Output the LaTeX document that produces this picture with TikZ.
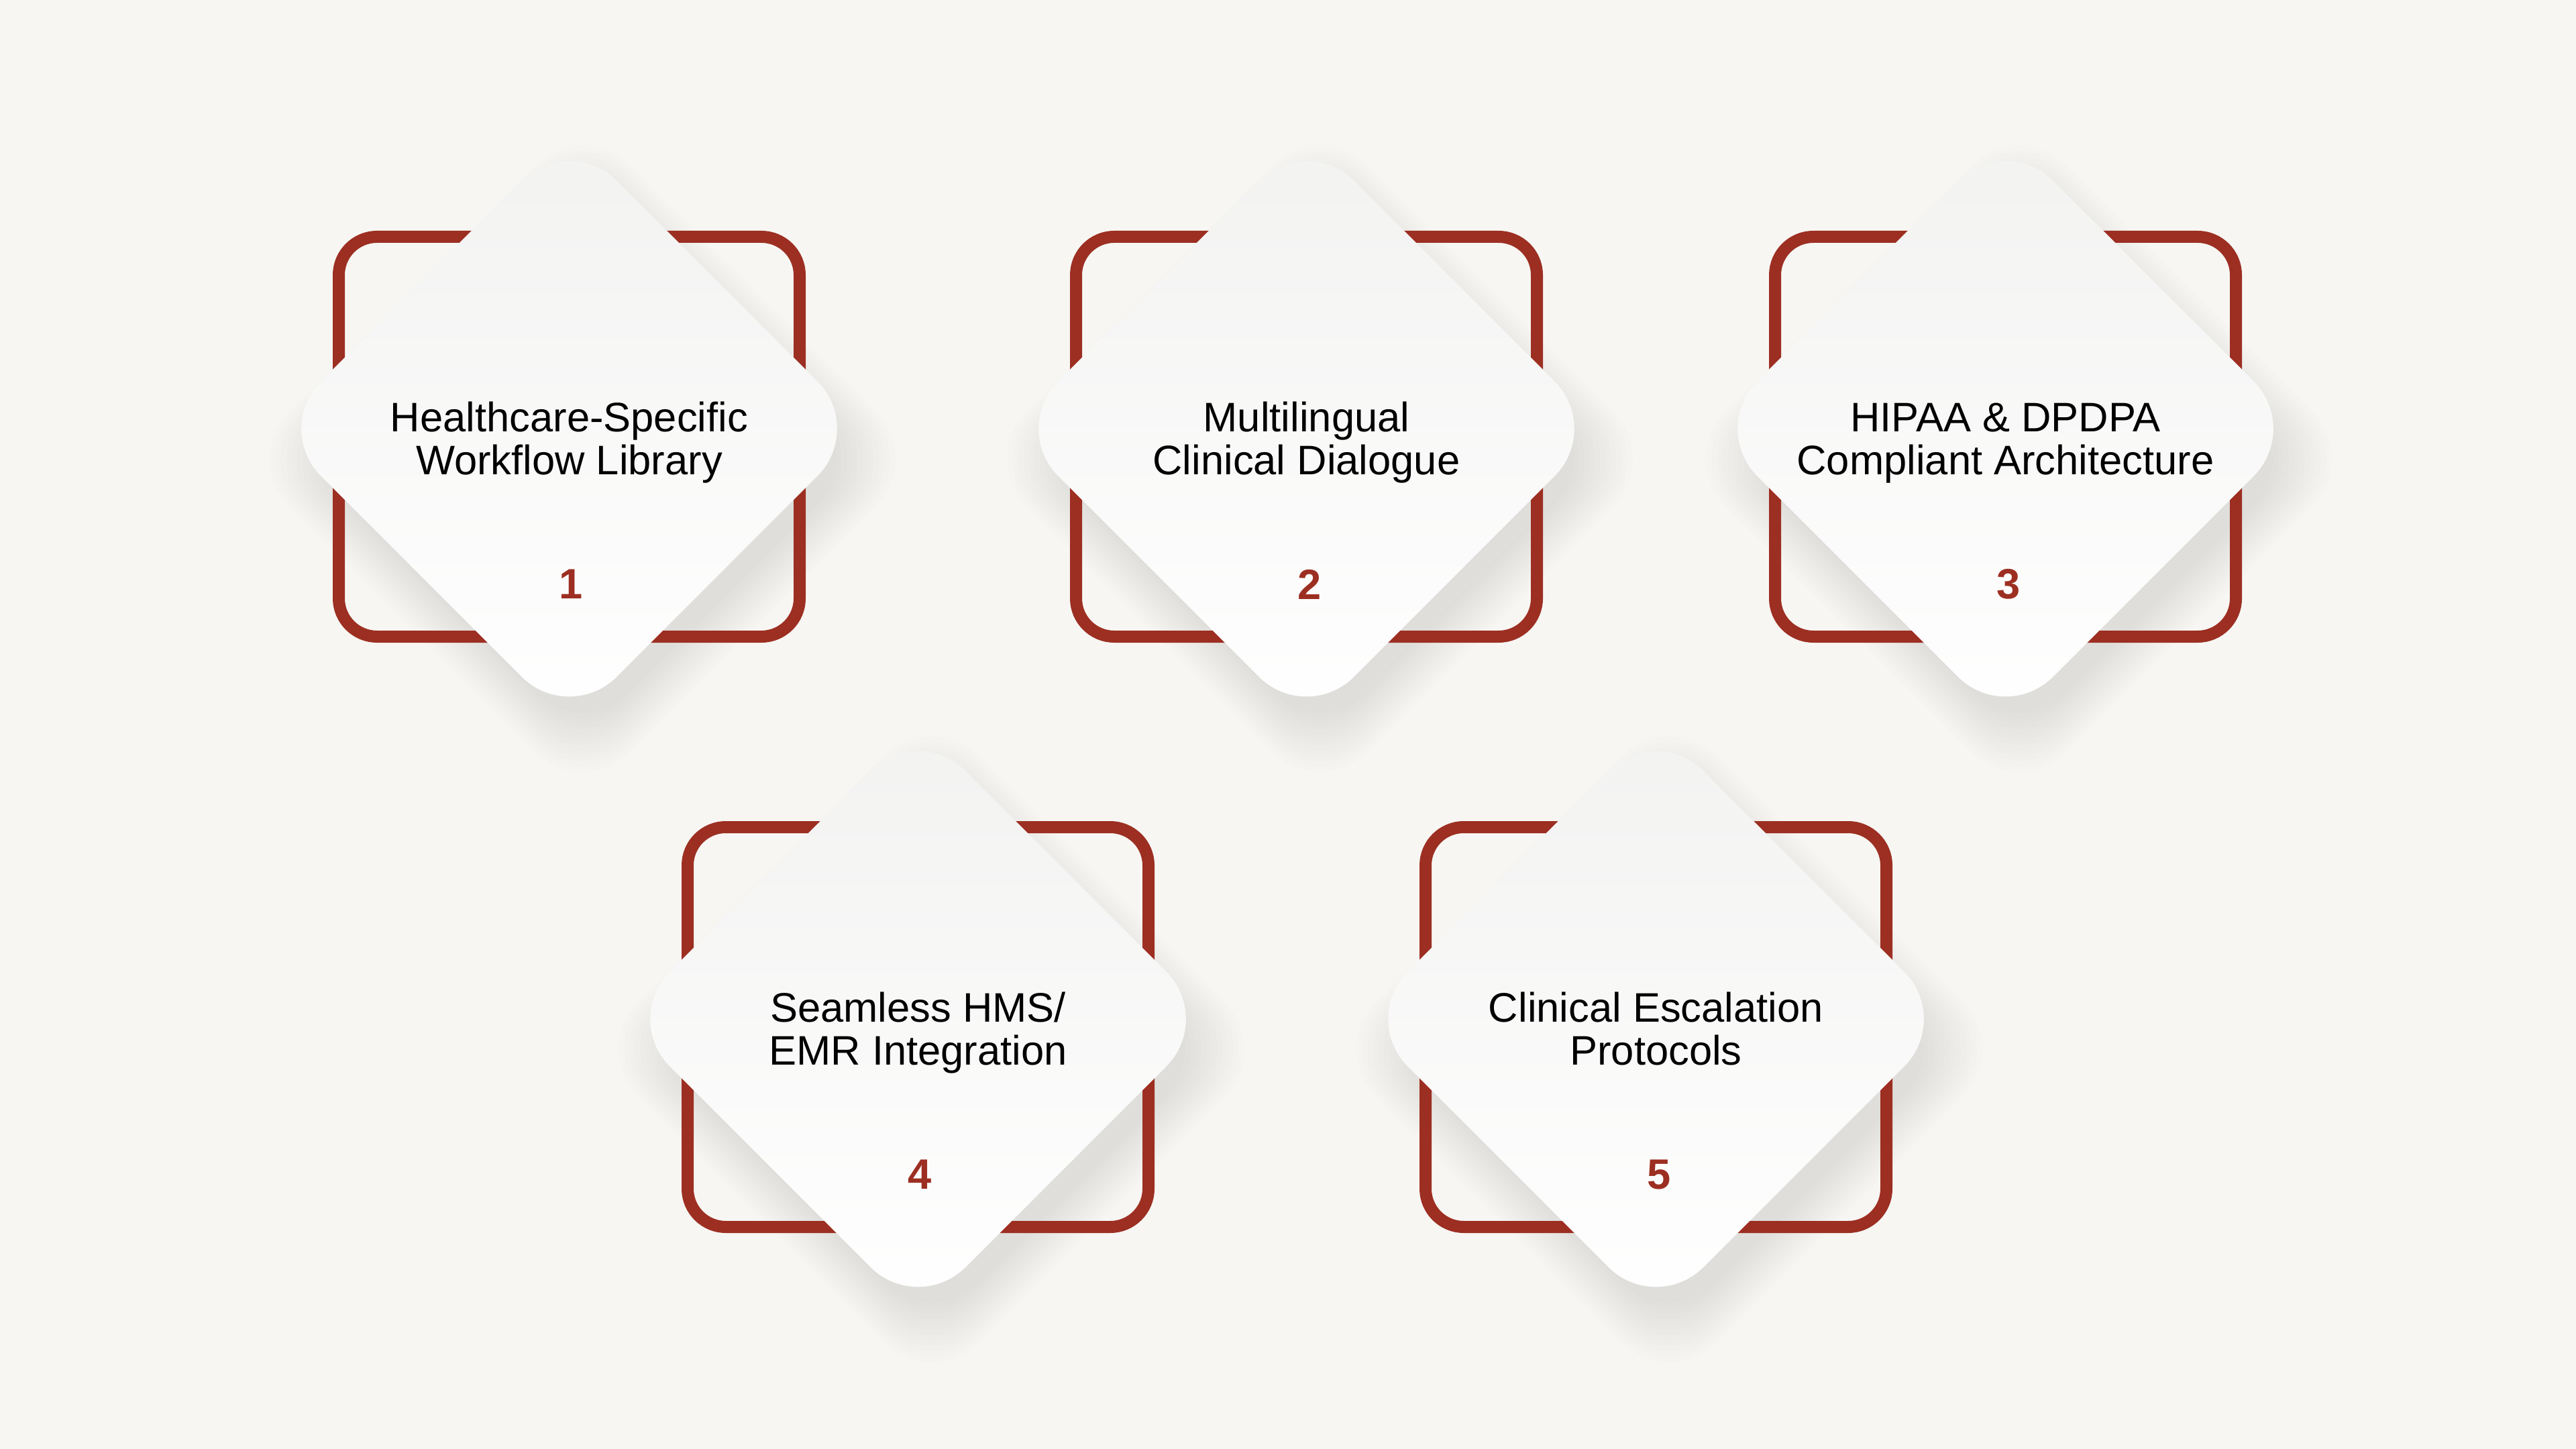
\documentclass[tikz,border=0pt]{standalone}
\usepackage{fontspec}
\setmainfont{Liberation Sans}
\usetikzlibrary{shapes.geometric}

\definecolor{bgcream}{HTML}{F7F6F3}
\definecolor{brickred}{HTML}{9C2F22}
\definecolor{gemtop}{HTML}{F2F2F1}

\tikzset{
  frame/.style={draw=brickred, line width=0.18cm, rounded corners=0.57cm,
    minimum width=6.87cm, minimum height=5.96cm, inner sep=0pt},
  gem/.style={diamond, aspect=1, minimum size=8.82cm, inner sep=0pt,
    rounded corners=1cm, top color=gemtop, bottom color=white},
  gemshade/.style={diamond, aspect=1, inner sep=0pt, rounded corners=1cm,
    fill=black, opacity=0.006},
  labeltext/.style={align=center, font=\fontsize{17.5}{18.2}\selectfont},
  numtext/.style={font=\fontsize{18}{20}\selectfont\bfseries, text=brickred}
}

% soft shadow under a diamond
\newcommand{\gemshadow}[2]{%
  \foreach \s in {0,...,11}{%
    \pgfmathsetmacro{\w}{8.4+\s*0.16}
    \node[gemshade, minimum size=\w cm] at (#1+0.2,#2-0.45) {};
  }}

\begin{document}
\begin{tikzpicture}

% background
\fill[bgcream] (0,0) rectangle (38.4,-21.6);
\useasboundingbox (0,0) rectangle (38.4,-21.6);

% shadows
\gemshadow{8.485}{-6.39}
\gemshadow{19.475}{-6.39}
\gemshadow{29.895}{-6.39}
\gemshadow{13.685}{-15.19}
\gemshadow{24.685}{-15.19}

% red frames
\node[frame] (frame1) at (8.485,-6.51) {};
\node[frame] (frame2) at (19.475,-6.51) {};
\node[frame] (frame3) at (29.895,-6.51) {};
\node[frame] (frame4) at (13.685,-15.31) {};
\node[frame] (frame5) at (24.685,-15.31) {};

% white diamonds
\node[gem] (gem1) at (8.485,-6.39) {};
\node[gem] (gem2) at (19.475,-6.39) {};
\node[gem] (gem3) at (29.895,-6.39) {};
\node[gem] (gem4) at (13.685,-15.19) {};
\node[gem] (gem5) at (24.685,-15.19) {};

% labels
\node[labeltext] (label1) at ([yshift=-0.24cm]gem1.center) {\strut Healthcare-Specific\\\strut Workflow Library};
\node[labeltext] (label2) at ([yshift=-0.24cm]gem2.center) {\strut Multilingual\\\strut Clinical Dialogue};
\node[labeltext] (label3) at ([yshift=-0.24cm]gem3.center) {\strut HIPAA \& DPDPA\\\strut Compliant Architecture};
\node[labeltext] (label4) at ([yshift=-0.24cm]gem4.center) {\strut Seamless HMS/\\\strut EMR Integration};
\node[labeltext] (label5) at ([yshift=-0.24cm]gem5.center) {\strut Clinical Escalation\\\strut Protocols};

% numbers
\node[numtext] (num1) at ([xshift=0.03cm,yshift=-2.32cm]gem1.center) {1};
\node[numtext] (num2) at ([xshift=0.05cm,yshift=-2.32cm]gem2.center) {2};
\node[numtext] (num3) at ([xshift=0.05cm,yshift=-2.32cm]gem3.center) {3};
\node[numtext] (num4) at ([xshift=0.03cm,yshift=-2.32cm]gem4.center) {4};
\node[numtext] (num5) at ([xshift=0.05cm,yshift=-2.32cm]gem5.center) {5};

\end{tikzpicture}
\end{document}
